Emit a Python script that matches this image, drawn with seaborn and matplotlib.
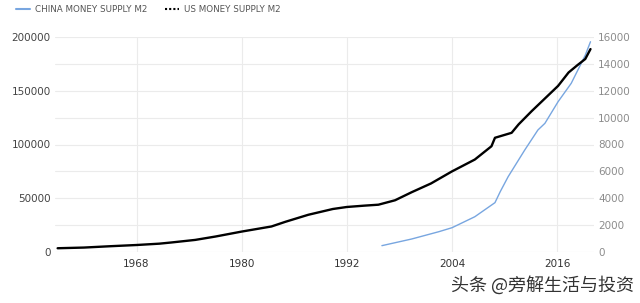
import matplotlib
matplotlib.use("Agg")
import matplotlib.pyplot as plt
from matplotlib.lines import Line2D
import seaborn as sns
import pandas as pd

# ---- data ----
us_years = [1959, 1962, 1965, 1968, 1970.6, 1972, 1974.7, 1977, 1980, 1983.4, 1985,
            1987.6, 1990.4, 1992, 1994, 1995.6, 1997.5, 1999.4, 2001.6, 2004, 2006.6,
            2008.5, 2008.9, 2010.8, 2011.6, 2013.1, 2016.1, 2017.3, 2018.3, 2019.2, 2019.8]
us_m2 = [280, 330, 430, 520, 620, 710, 900, 1150, 1520, 1900, 2250,
         2770, 3200, 3350, 3450, 3520, 3850, 4450, 5100, 6000, 6880,
         7870, 8500, 8870, 9500, 10490, 12360, 13360, 13900, 14360, 15100]

cn_years = [1996.0, 1999.4, 2002.5, 2004, 2006.6, 2008.9, 2009.5, 2010.4, 2012.3,
            2013.8, 2014.6, 2016.1, 2017.6, 2019.2, 2019.8]
cn_m2 = [5900, 12100, 18900, 22600, 32800, 45900, 56100, 70000, 94900,
         113500, 119700, 139800, 156900, 183000, 195600]

x_ticks = [1968, 1980, 1992, 2004, 2016]
left_ticks = [0, 50000, 100000, 150000, 200000]
right_ticks = list(range(0, 16001, 2000))

china_label = "CHINA MONEY SUPPLY M2"
us_label = "US MONEY SUPPLY M2"
watermark = "头条 @旁解生活与投资"

# ---- style ----
sns.set_theme(style="white")
plt.rcParams['font.family'] = ['DejaVu Sans']

blue = "#78a6e0"
grid_c = "#ebebeb"

fig = plt.figure(figsize=(6.4, 3.03), dpi=100)
ax = fig.add_axes([55/640, 1-252/303, (594-55)/640, (252-37)/303])

cn_df = pd.DataFrame({"year": cn_years, "m2": cn_m2})
us_df = pd.DataFrame({"year": us_years, "m2": us_m2})

sns.lineplot(data=cn_df, x="year", y="m2", ax=ax, color=blue, linewidth=1.0, zorder=3)
ax.set_xlim(1958.7, 2020.2)
ax.set_ylim(0, 200000)
ax.set_yticks(range(0, 200001, 25000))
ax.set_yticklabels([f"{v}" if v in left_ticks else "" for v in range(0, 200001, 25000)])
ax.set_xticks(x_ticks)
ax.set_xticklabels([str(t) for t in x_ticks])
ax.grid(True, color=grid_c, linewidth=0.8)
ax.set_axisbelow(True)
ax.set_xlabel("")
ax.set_ylabel("")
for s in ax.spines.values():
    s.set_visible(False)
ax.tick_params(axis="both", length=0, labelsize=7.5)
ax.tick_params(axis="y", colors="#444444", pad=3)
ax.tick_params(axis="x", colors="#333333", pad=5)

ax2 = ax.twinx()
sns.lineplot(data=us_df, x="year", y="m2", ax=ax2, color="black", linewidth=1.7, zorder=4)
ax2.set_ylim(0, 16000)
ax2.set_yticks(right_ticks)
ax2.set_yticklabels([str(v) for v in right_ticks])
ax2.set_ylabel("")
ax2.grid(False)
for s in ax2.spines.values():
    s.set_visible(False)
ax2.tick_params(axis="y", length=0, labelsize=7.5, colors="#8c8c8c", pad=3)
ax2.set_xlim(1958.7, 2020.2)

handles = [Line2D([], [], color=blue, linewidth=1.5),
           Line2D([], [], color="black", linewidth=1.5, linestyle=(0, (1, 1)))]
fig.legend(handles, [china_label, us_label], loc="upper left",
           bbox_to_anchor=(0.012, 1.01), ncol=2, frameon=False,
           fontsize=6.3, handlelength=1.6, handletextpad=0.6, columnspacing=2.0,
           labelcolor="#555555")

fig.text(0.99, 0.06, watermark, ha="right", va="center", fontsize=13,
         color="#333333", family=['Noto Sans CJK SC', 'DejaVu Sans'])

fig.savefig("out.png", dpi=100, facecolor="white")
